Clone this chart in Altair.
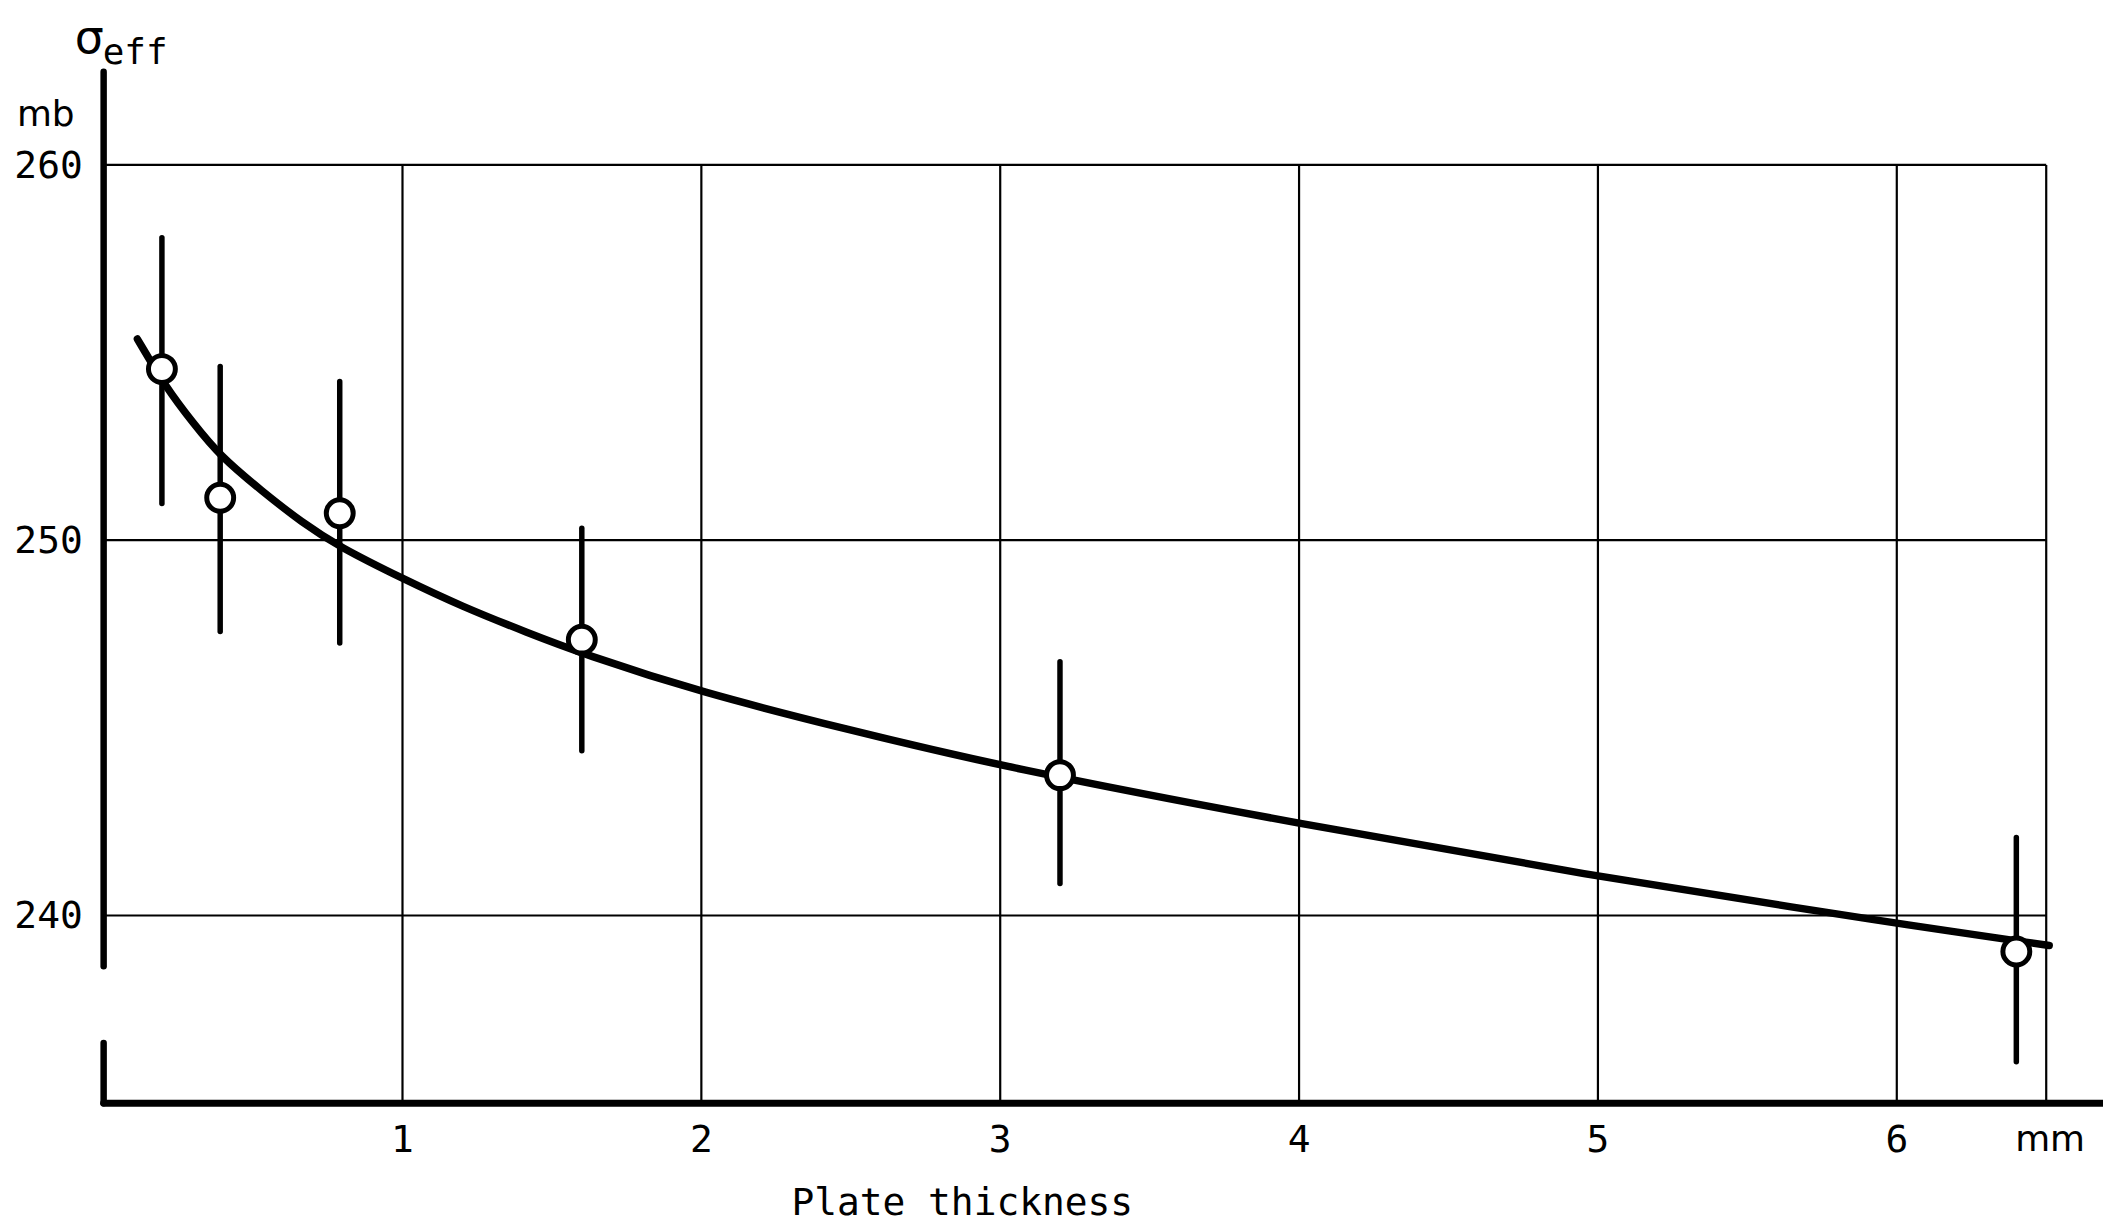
import altair as alt
import pandas as pd

# ---- data ----
thickness = [0.195, 0.39, 0.79, 1.60, 3.20, 6.40]
sigma_eff = [254.56, 251.13, 250.72, 247.35, 243.74, 239.04]
err_low = [250.98, 247.57, 247.26, 244.39, 240.85, 236.10]
err_high = [258.06, 254.63, 254.23, 250.32, 246.76, 242.08]

curve_x = [0.113, 0.21, 0.30, 0.387, 0.531, 0.664, 0.787, 1.0, 1.2, 1.42, 1.6,
           2.0, 2.487, 3.0, 4.0, 5.0, 5.72, 6.0, 6.51]
curve_y = [255.36, 254.05, 253.12, 252.26, 251.30, 250.47, 249.83, 248.98, 248.23,
           247.53, 246.98, 245.94, 244.96, 243.97, 242.44, 241.03, 240.14, 239.79, 239.2]

x_ticks = [1, 2, 3, 4, 5, 6]
x_labels = ["1", "2", "3", "4", "5", "6"]
y_ticks = [240, 250, 260]
y_labels = ["240", "250", "260"]

X_MIN, X_MAX = 0.0, 6.5
Y_MIN, Y_MAX = 235.0, 262.5

FONT = "DejaVu Sans Mono"
SANS = "DejaVu Sans"
xs = alt.Scale(domain=[X_MIN, X_MAX], nice=False, zero=False)
ys = alt.Scale(domain=[Y_MIN, Y_MAX], nice=False, zero=False)


def X(f):
    return alt.X(f + ":Q", scale=xs, axis=None)


def Y(f):
    return alt.Y(f + ":Q", scale=ys, axis=None)


points = pd.DataFrame({"x": thickness, "y": sigma_eff, "lo": err_low, "hi": err_high})
curve = pd.DataFrame({"x": curve_x, "y": curve_y})

grid_v = pd.DataFrame({"x": x_ticks + [X_MAX]})
grid_v["y0"] = Y_MIN
grid_v["y1"] = 260.0
grid_h = pd.DataFrame({"y": y_ticks})
grid_h["x0"] = X_MIN
grid_h["x1"] = X_MAX

vgrid = alt.Chart(grid_v).mark_rule(color="black", strokeWidth=2.2).encode(
    x=X("x"), y=Y("y0"), y2="y1:Q")
hgrid = alt.Chart(grid_h).mark_rule(color="black", strokeWidth=2.2).encode(
    y=Y("y"), x=X("x0"), x2="x1:Q")

# broken y axis and x axis
yaxis = pd.DataFrame({"x": [0.0, 0.0], "y0": [238.65, 235.0], "y1": [262.48, 236.6]})
yaxis_l = alt.Chart(yaxis).mark_rule(color="black", strokeWidth=6.5, strokeCap="round").encode(
    x=X("x"), y=Y("y0"), y2="y1:Q")
xaxis = pd.DataFrame({"y": [Y_MIN], "x0": [0.0], "x1": [6.75]})
xaxis_l = alt.Chart(xaxis).mark_rule(color="black", strokeWidth=7, strokeCap="round").encode(
    y=Y("y"), x=X("x0"), x2="x1:Q")

line = alt.Chart(curve).mark_line(color="black", strokeWidth=7.5, interpolate="basis",
                                  strokeCap="round").encode(x=X("x"), y=Y("y"))

errs = alt.Chart(points).mark_rule(color="black", strokeWidth=5.5, strokeCap="round").encode(
    x=X("x"), y=Y("lo"), y2="hi:Q")

circles = alt.Chart(points).mark_circle(size=729, fill="white", stroke="black",
                                        strokeWidth=5, opacity=1).encode(
    x=X("x"), y=Y("y"))

# tick labels
xl = pd.DataFrame({"x": x_ticks, "t": x_labels})
xl["y"] = Y_MIN
xlab = alt.Chart(xl).mark_text(font=FONT, fontSize=38, baseline="middle", align="center",
                               dy=38, color="black").encode(x=X("x"), y=Y("y"), text="t:N")
yl = pd.DataFrame({"y": y_ticks, "t": y_labels})
yl["x"] = X_MIN
ylab = alt.Chart(yl).mark_text(font=FONT, fontSize=38, baseline="middle", align="right",
                               dx=-21, dy=2, color="black").encode(x=X("x"), y=Y("y"), text="t:N")


# unit / title annotations
def note(txt, x, y, size, align="center", baseline="middle", font=FONT):
    d = pd.DataFrame({"x": [x], "y": [y], "t": [txt]})
    return alt.Chart(d).mark_text(font=font, fontSize=size, align=align, baseline=baseline,
                                  color="black").encode(x=X("x"), y=Y("y"), text="t:N")


mm = note("mm", 6.513, 235.0 - 37.0 / 37.675, 36, font=SANS)
xtitle = note("Plate thickness", 2.873, 235.0 - 101.0 / 37.675, 38)
mb = note("mb", -0.097, 261.05, 36, align="right", baseline="alphabetic", font=SANS)
sig = note("σ", -0.097, 262.98, 46, align="left", baseline="alphabetic", font=SANS)
eff = note("eff", -0.003, 262.69, 36, align="left", baseline="alphabetic")

chart = alt.layer(
    vgrid, hgrid, yaxis_l, xaxis_l, errs, line, circles,
    xlab, ylab, mm, xtitle, mb, sig, eff
).properties(
    width=1950,
    height=1036,
    autosize=alt.AutoSizeParams(type="none"),
    padding={"left": 96, "top": 61, "right": 57, "bottom": 120},
    background="white",
).configure_view(stroke=None)

chart.save("out.html", embed_options={"renderer": "svg", "actions": False})
